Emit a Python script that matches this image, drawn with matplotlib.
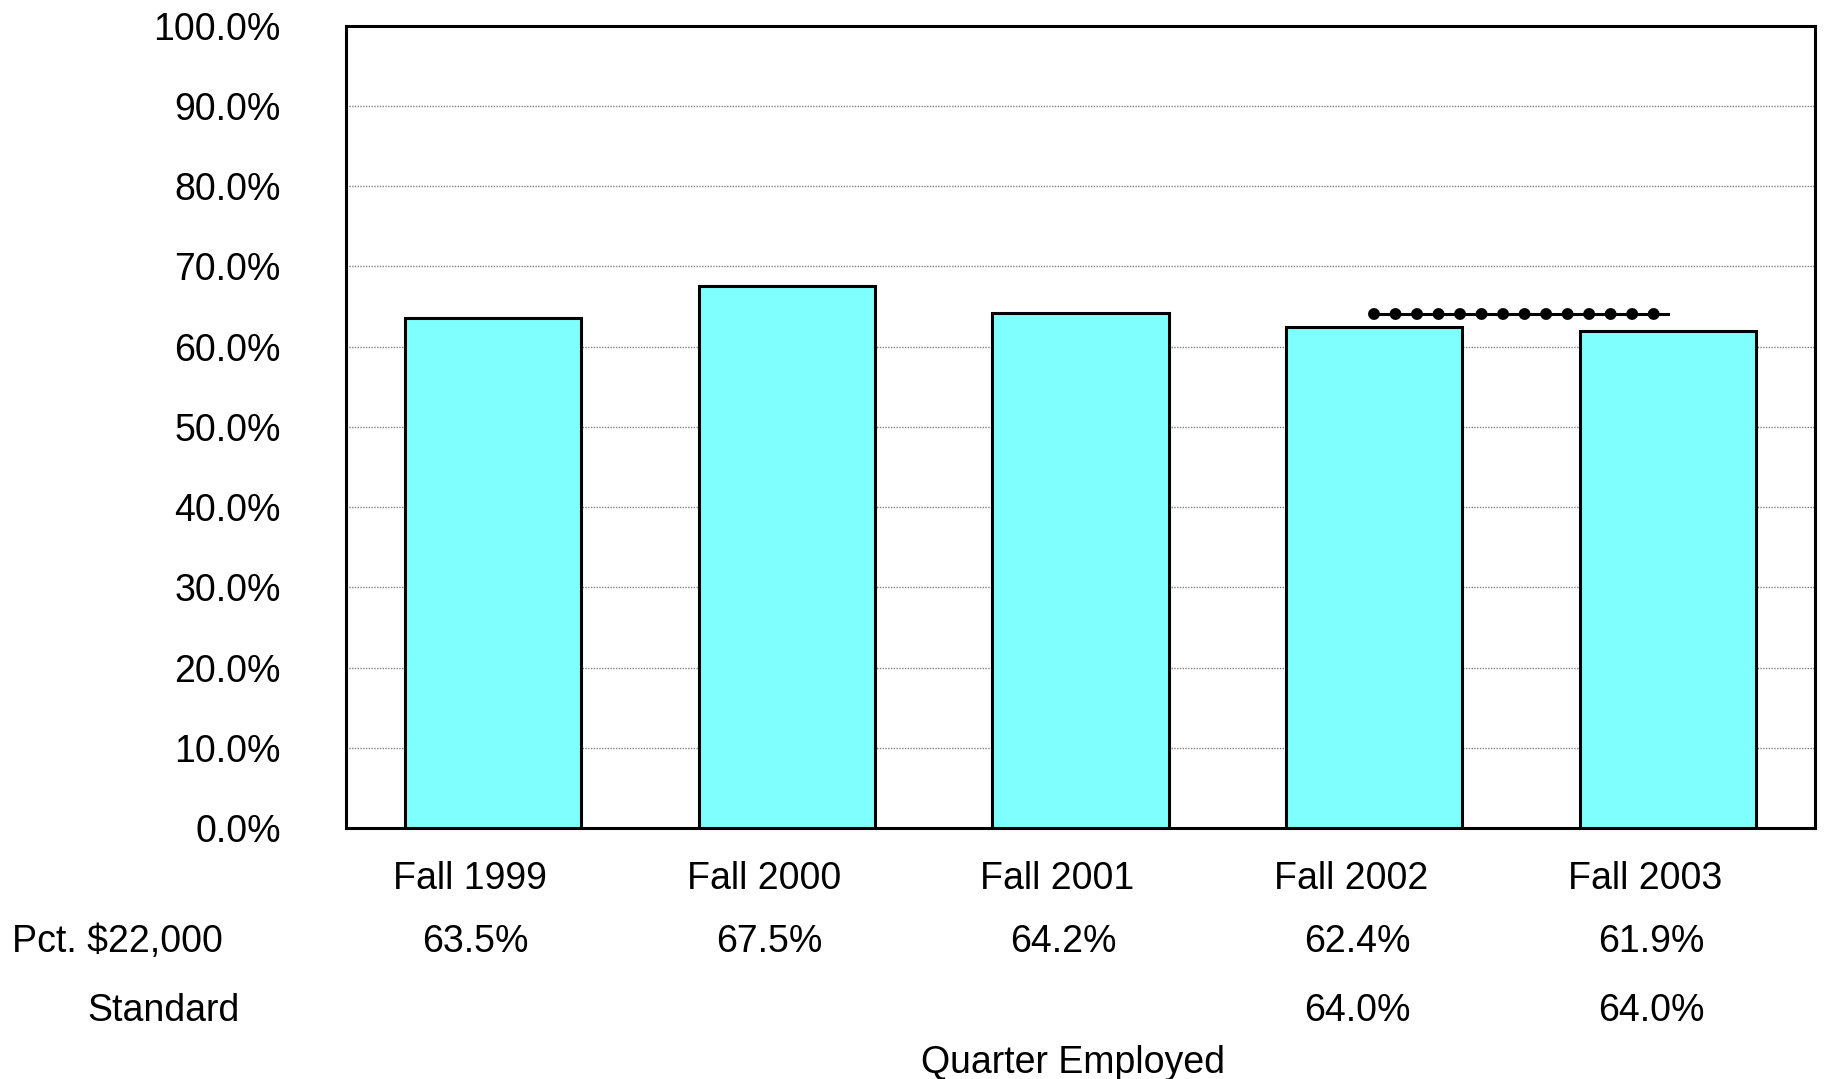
import numpy as np
import matplotlib.pyplot as plt
from matplotlib.transforms import blended_transform_factory

# data
quarters = ['Fall 1999', 'Fall 2000', 'Fall 2001', 'Fall 2002', 'Fall 2003']
pct_22000 = [63.5, 67.5, 64.2, 62.4, 61.9]
standard = [None, None, None, 64.0, 64.0]
y_ticks = [0, 10, 20, 30, 40, 50, 60, 70, 80, 90, 100]

plt.rcParams['font.family'] = ['Liberation Sans', 'DejaVu Sans']
FS = 27

W, H = 1828, 1079
fig = plt.figure(figsize=(W / 100, H / 100), dpi=100)
ax = fig.add_axes([346 / W, 1 - 828 / H, (1815 - 346) / W, (828 - 25.6) / H])

x = np.arange(len(quarters))
ax.bar(x, pct_22000, width=0.6, color='#80FFFF', edgecolor='black', linewidth=2.2, zorder=3)

# standard line: thin solid line plus round dots
sx = [i for i, v in enumerate(standard) if v is not None]
sy = [v for v in standard if v is not None]
ax.plot(sx, sy, color='black', linewidth=2.2, zorder=4)
ax.plot(sx, sy, color='black', linewidth=8.6, linestyle=(0, (0.001, 1.80)),
        dash_capstyle='round', zorder=5)

ax.set_xlim(-0.5, len(quarters) - 0.5)
ax.set_ylim(0, 100)
ax.set_yticks(y_ticks)
ax.set_yticklabels([f'{v:.1f}%' for v in y_ticks], fontsize=FS)
ax.tick_params(axis='y', length=0, pad=47)
ax.set_xticks([])
ax.grid(axis='y', color='#808080', linestyle=(0, (1, 1)), linewidth=1, zorder=0)
for s in ax.spines.values():
    s.set_linewidth(2.2)
    s.set_color('black')

# data table under the chart
tr = blended_transform_factory(ax.transData, fig.transFigure)
def fy(px):
    return 1 - px / H

for i, q in enumerate(quarters):
    ax.text(i - 0.078, fy(879), q, transform=tr, ha='center', va='center', fontsize=FS, clip_on=False)
    ax.text(i - 0.058, fy(942), f'{pct_22000[i]:.1f}%', transform=tr, ha='center', va='center',
            fontsize=FS, clip_on=False)
    if standard[i] is not None:
        ax.text(i - 0.058, fy(1011), f'{standard[i]:.1f}%', transform=tr, ha='center', va='center',
                fontsize=FS, clip_on=False)

fig.text(12 / W, fy(942), 'Pct. $22,000', ha='left', va='center', fontsize=FS)
fig.text(87 / W, fy(1011), 'Standard', ha='left', va='center', fontsize=FS)
fig.text(1073 / W, fy(1063), 'Quarter Employed', ha='center', va='center', fontsize=FS)

fig.savefig('out.png', dpi=100)
